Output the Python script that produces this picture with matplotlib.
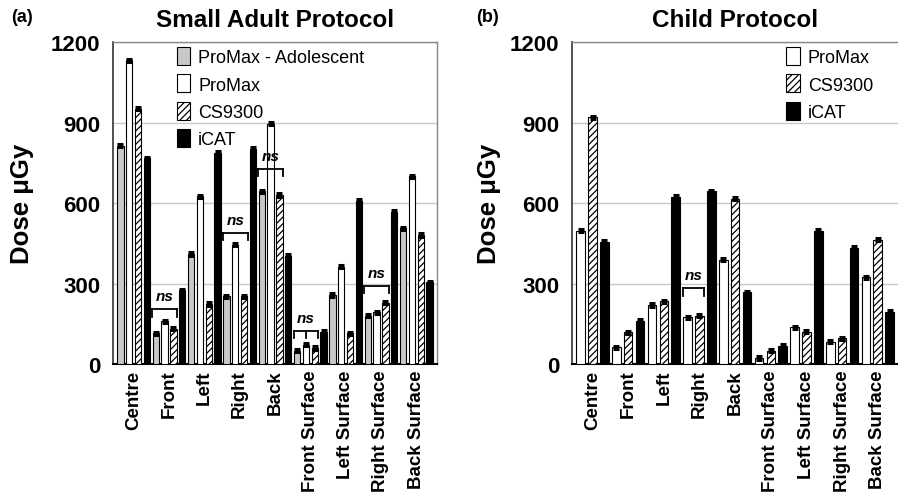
import matplotlib
matplotlib.use("Agg")
import matplotlib.pyplot as plt
import matplotlib.patches as mpatches
import numpy as np

plt.rcParams['font.family'] = ['Liberation Sans', 'DejaVu Sans']
plt.rcParams['hatch.linewidth'] = 0.9

sites = ['Centre', 'Front', 'Left', 'Right', 'Back', 'Front Surface',
         'Left Surface', 'Right Surface', 'Back Surface']

# small adult protocol
adult_adol = [814, 114, 410, 252, 643, 50, 257, 180, 506]
adult_promax = [1132, 159, 625, 444, 895, 72, 363, 193, 700]
adult_cs9300 = [951, 131, 224, 252, 630, 60, 114, 228, 481]
adult_icat = [767, 274, 787, 802, 404, 121, 609, 568, 305]

# child protocol
child_promax = [497, 62, 220, 174, 389, 22, 137, 83, 323]
child_cs9300 = [920, 118, 233, 180, 616, 50, 121, 96, 464]
child_icat = [456, 162, 624, 643, 267, 68, 497, 432, 195]

err = 6

# ns brackets: (group, bar indices with a leg, height)
adult_ns = [(1, [0, 2], 205), (3, [0, 2], 490), (4, [0, 2], 727),
            (5, [0, 1, 2], 124), (7, [0, 2], 292)]
child_ns = [(3, [0, 1], 282)]

styles = {
    'ProMax - Adolescent': dict(color='#c8c8c8', hatch=None),
    'ProMax': dict(color='white', hatch=None),
    'CS9300': dict(color='white', hatch='/////'),
    'iCAT': dict(color='black', hatch=None),
}


def draw_panel(ax, series, names, ns_list, title, legend_x, ylab_x):
    n = len(series)
    pitch = 1.0 / n
    width = pitch * 0.72
    x = np.arange(len(sites))
    for i, (vals, name) in enumerate(zip(series, names)):
        pos = x - 0.5 + pitch * (i + 0.5)
        st = styles[name]
        ax.bar(pos, vals, width, color=st['color'], hatch=st['hatch'],
               edgecolor='black', linewidth=0.8, label=name, zorder=3)
        ax.errorbar(pos, vals, yerr=err, fmt='none', ecolor='black',
                    elinewidth=1.2, capsize=2.2, capthick=2.2, zorder=4)
    for g, bars, h in ns_list:
        pos = [g - 0.5 + pitch * (b + 0.5) for b in bars]
        left = pos[0] - width * 0.55
        right = pos[-1] + width * 0.55
        ax.plot([left, right], [h, h], color='black', lw=1.3, zorder=5)
        legs = [left] + pos[1:-1] + [right]
        for p in legs:
            ax.plot([p, p], [h, h - 28], color='black', lw=1.3, zorder=5)
        ax.text((left + right) / 2, h + 22, 'ns', ha='center', va='bottom',
                fontsize=11, style='italic', fontweight='bold', zorder=5)

    ax.set_xlim(-0.585, len(sites) - 0.415)
    ax.set_ylim(0, 1200)
    ax.set_yticks([0, 300, 600, 900, 1200])
    ax.set_yticklabels(['0', '300', '600', '900', '1200'],
                       fontsize=16, fontweight='bold')
    ax.set_xticks(x)
    ax.set_xticklabels(sites, rotation=90, fontsize=13.5, fontweight='bold')
    ax.tick_params(axis='y', length=0, pad=9)
    ax.tick_params(axis='x', length=0, pad=4)
    ax.yaxis.grid(True, color='#c8c8c8', lw=1.0, zorder=0)
    ax.set_axisbelow(True)
    for s in ['top', 'right']:
        ax.spines[s].set_color('#888888')
        ax.spines[s].set_linewidth(1.0)
    ax.spines['left'].set_color('#333333')
    ax.spines['left'].set_linewidth(1.2)
    ax.spines['bottom'].set_color('black')
    ax.spines['bottom'].set_linewidth(1.5)
    ax.set_ylabel('Dose \u03bcGy', fontsize=18.5, fontweight='bold')
    ax.yaxis.set_label_coords(ylab_x, 0.5)
    ax.set_title(title, fontsize=17.5, fontweight='bold', pad=11.5)

    handles = [mpatches.Patch(facecolor=styles[nm]['color'],
                              hatch=styles[nm]['hatch'], edgecolor='black',
                              linewidth=0.8, label=nm) for nm in names]
    ax.legend(handles=handles, loc='upper left',
              bbox_to_anchor=(legend_x, 0.995), frameon=False, fontsize=13,
              handlelength=0.75, handleheight=1.15, handletextpad=0.45,
              labelspacing=0.45, borderaxespad=0.0, borderpad=0.2)
    return ax


fig = plt.figure(figsize=(8.98, 5.02), dpi=100)
ax1 = fig.add_axes([0.1258, 0.2729, 0.3608, 0.6414])
ax2 = fig.add_axes([0.6366, 0.2729, 0.3641, 0.6414])

draw_panel(ax1, [adult_adol, adult_promax, adult_cs9300, adult_icat],
           ['ProMax - Adolescent', 'ProMax', 'CS9300', 'iCAT'],
           adult_ns, 'Small Adult Protocol', 0.185, -0.245)
draw_panel(ax2, [child_promax, child_cs9300, child_icat],
           ['ProMax', 'CS9300', 'iCAT'],
           child_ns, 'Child Protocol', 0.645, -0.215)

fig.text(11 / 898, 1 - 18 / 502, '(a)', fontsize=13, fontweight='bold',
         va='center', ha='left')
fig.text(476 / 898, 1 - 18 / 502, '(b)', fontsize=13, fontweight='bold',
         va='center', ha='left')

fig.savefig('out.png', dpi=100)
